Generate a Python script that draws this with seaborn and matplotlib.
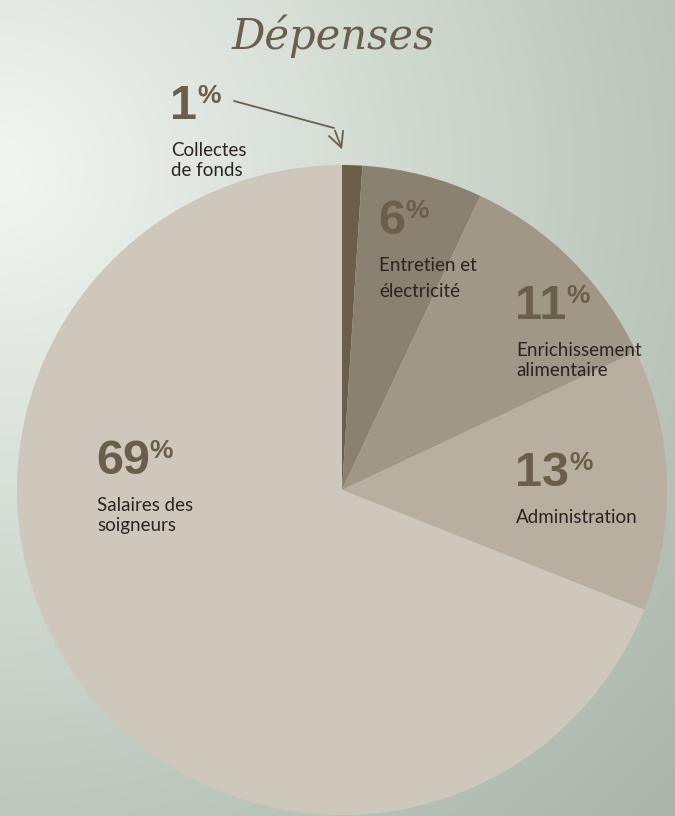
import numpy as np
import matplotlib.pyplot as plt
import matplotlib.colors as mcolors
import seaborn as sns

sns.set_theme(style="white")

# Data (clockwise from 12 o'clock)
categories = ["Collectes\nde fonds", "Entretien et\nélectricité", "Enrichissement\nalimentaire",
              "Administration", "Salaires des\nsoigneurs"]
values = [1, 6, 11, 13, 69]
slice_colors = ["#6b5e4b", "#8b8170", "#a09786", "#b8afa1", "#cec7bc"]

W, H = 675, 816
fig = plt.figure(figsize=(W / 100, H / 100), dpi=100)
ax = fig.add_axes([0, 0, 1, 1])

# --- background gradient ---
yy, xx = np.mgrid[0:H, 0:W]
d = np.sqrt((xx - 0) ** 2 + (yy - 170) ** 2) / np.sqrt(W ** 2 + (H - 170) ** 2)
cmap = mcolors.LinearSegmentedColormap.from_list(
    "bg", ["#f3f5f1", "#d8e0d8", "#bfcabf", "#a8b5a8"])
ax.imshow(cmap(d), extent=[0, W, 0, H], origin="upper", zorder=0, aspect="auto")

# --- pie ---
cx, cy, r = 342, H - 490, 325
ax.pie(values, colors=slice_colors, startangle=90, counterclock=False,
       center=(cx, cy), radius=r, wedgeprops=dict(linewidth=0), frame=True)
ax.set_xlim(0, W)
ax.set_ylim(0, H)
ax.set_aspect("equal")
ax.axis("off")

dark = "#6b5e4b"
label_color = "#2a2520"
num_font = dict(family=["Liberation Sans", "DejaVu Sans"], fontweight="bold", color=dark)

# title
ax.text(W / 2 - 4, H - 36, "Dépenses", ha="center", va="center", fontsize=30,
        color=dark, family=["DejaVu Serif"], style="italic")

# label positions in pixel coords (left x, top of number y)
label_pos = [(170, 84), (378, 199), (515, 284), (515, 451), (96, 439)]

for cat, v, (px, py) in zip(categories, values, label_pos):
    num = ax.text(px, H - py, f"{v}", ha="left", va="top", fontsize=35, **num_font)
    ax.annotate("%", xy=(1, 1), xycoords=num, xytext=(0, 0), textcoords="offset points",
                ha="left", va="top", fontsize=19, **num_font)
    lsp = 1.65 if v == 6 else 1.2
    ax.text(px + 1, H - py - 58, cat, ha="left", va="top", fontsize=13.5,
            color=label_color, family=["Lato", "DejaVu Sans"], linespacing=lsp)

# arrow for the 1% slice
ax.plot([234, 334], [H - 101, H - 128], color=dark, lw=1.3, solid_capstyle="round")
ax.annotate("", xy=(343, H - 152), xytext=(334, H - 128),
            arrowprops=dict(arrowstyle="->,head_length=0.9,head_width=0.45",
                            color=dark, lw=1.3))

fig.savefig("out.png", dpi=100)
